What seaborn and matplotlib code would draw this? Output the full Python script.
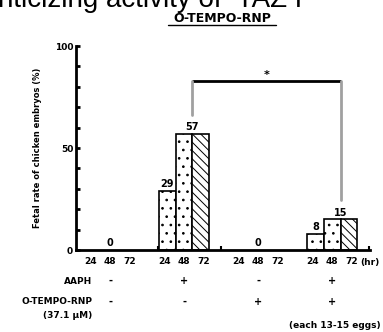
import matplotlib
matplotlib.use("Agg")
import matplotlib.pyplot as plt
import seaborn as sns
import pandas as pd
import numpy as np
from matplotlib.transforms import blended_transform_factory

sns.set_theme(style="white")
plt.rcParams['font.family'] = ['DejaVu Sans']
plt.rcParams['hatch.linewidth'] = 0.7
plt.rcParams['text.color'] = 'black'
plt.rcParams['axes.labelcolor'] = 'black'
plt.rcParams['ytick.color'] = 'black'
plt.rcParams['xtick.color'] = 'black'

groups = ["G1", "G2", "G3", "G4"]
times = ["24", "48", "72"]
values = {
    "24": [0, 29, 0, 8],
    "48": [0, 57, 0, 15],
    "72": [0, 57, 0, 15],
}
value_labels = [("0", 0, "48"), ("29", 1, "24"), ("57", 1, "48|72"),
                ("0", 2, "48"), ("8", 3, "24"), ("15", 3, "48|72")]
aaph = ["-", "+", "-", "+"]
otempo = ["-", "-", "+", "+"]
hatches = {"24": "..", "48": "..", "72": "\\\\\\\\"}

rows = []
for t in times:
    for g, v in zip(groups, values[t]):
        rows.append({"group": g, "time": t, "value": v})
df = pd.DataFrame(rows)

fig = plt.figure(figsize=(3.83, 3.32), dpi=100)
ax = fig.add_axes([76/383, 82/332, 294/383, 204/332])

sns.barplot(data=df, x="group", y="value", hue="time", order=groups,
            hue_order=times, width=0.675, palette=["white"]*3,
            edgecolor="black", linewidth=1.2, legend=False, ax=ax)

bw = 0.675 / 3
for i, cont in enumerate(ax.containers):
    t = times[i]
    for p in cont.patches:
        p.set_hatch(hatches[t])
        p.set_facecolor("white")
        p.set_edgecolor("black")
        if p.get_height() == 0:
            p.set_visible(False)

ax.set_xlim(-0.46, 3.51)
ax.set_ylim(0, 100)
for s in ["top", "right"]:
    ax.spines[s].set_visible(False)
for s in ["left", "bottom"]:
    ax.spines[s].set_linewidth(2)
    ax.spines[s].set_color("black")
ax.set_yticks([0, 50, 100])
ax.set_yticklabels(["0", "50", "100"], fontsize=6.5, fontweight="bold")
ax.set_yticks(np.arange(0, 101, 10), minor=True)
ax.tick_params(axis="y", which="both", direction="in", length=3, width=2,
               color="black", pad=2, left=True)
ax.set_xticks([])
ax.set_xticks([0.65, 1.5, 3.5], minor=True)
ax.tick_params(axis="x", which="minor", direction="in", length=3, width=1.5,
               color="black", bottom=True)
ax.set_xlabel("")
ax.set_ylabel("Fetal rate of chicken embryos (%)", fontsize=6,
              fontweight="bold", labelpad=9)

offs = {"24": -bw, "48": 0.0, "72": bw, "48|72": bw / 2}
for txt, gi, key in value_labels:
    yv = values["48"][gi] if key == "48|72" else values[key][gi]
    ax.text(gi + offs[key], yv + 0.8, txt, ha="center", va="bottom",
            fontsize=7, fontweight="bold")

# significance bracket
x1, x2 = 1 + bw / 2, 3 + bw / 2
ytop = 83
ax.plot([x1, x2], [ytop, ytop], color="black", lw=2, clip_on=False,
        solid_capstyle="butt")
ax.plot([x1, x1], [ytop, 66], color="#a0a0a0", lw=2, clip_on=False)
ax.plot([x2, x2], [ytop, 24.5], color="#a0a0a0", lw=2, clip_on=False)
ax.text((x1 + x2) / 2, ytop + 0.3, "*", ha="center", va="bottom",
        fontsize=8, fontweight="bold")

def fy(px):
    return (332 - px) / 332

bt = blended_transform_factory(ax.transData, fig.transFigure)
for gi in range(4):
    for k, t in enumerate(times):
        ax.text(gi + (k - 1) * 0.26, fy(262), t, transform=bt, ha="center",
                va="center", fontsize=6.5, fontweight="bold")
    ax.text(gi, fy(281), aaph[gi], transform=bt, ha="center", va="center",
            fontsize=7, fontweight="bold")
    ax.text(gi, fy(302), otempo[gi], transform=bt, ha="center", va="center",
            fontsize=7, fontweight="bold")
fig.text(370/383, fy(262), "(hr)", ha="center", va="center", fontsize=6.5,
         fontweight="bold")
fig.text(92/383, fy(281), "AAPH", ha="right", va="center", fontsize=6.5,
         fontweight="bold")
fig.text(92/383, fy(302), "O-TEMPO-RNP", ha="right", va="center",
         fontsize=6.5, fontweight="bold")
fig.text(92/383, fy(315), "(37.1 \u03bcM)", ha="right", va="center",
         fontsize=6.5, fontweight="bold")
fig.text(381/383, fy(326), "(each 13-15 eggs)", ha="right", va="center",
         fontsize=6.5, fontweight="bold")

# titles
fig.text(222/383, fy(18), "O-TEMPO-RNP", ha="center", va="center",
         fontsize=9, fontweight="bold")
fig.add_artist(plt.Line2D([168/383, 276/383], [fy(25), fy(25)],
                          color="black", lw=1, transform=fig.transFigure))
fig.text(-2/383, fy(7), "nticizing activity of  TAZ F", ha="left",
         va="baseline", fontsize=20, family="Liberation Sans")

fig.savefig("out.png", dpi=100)
